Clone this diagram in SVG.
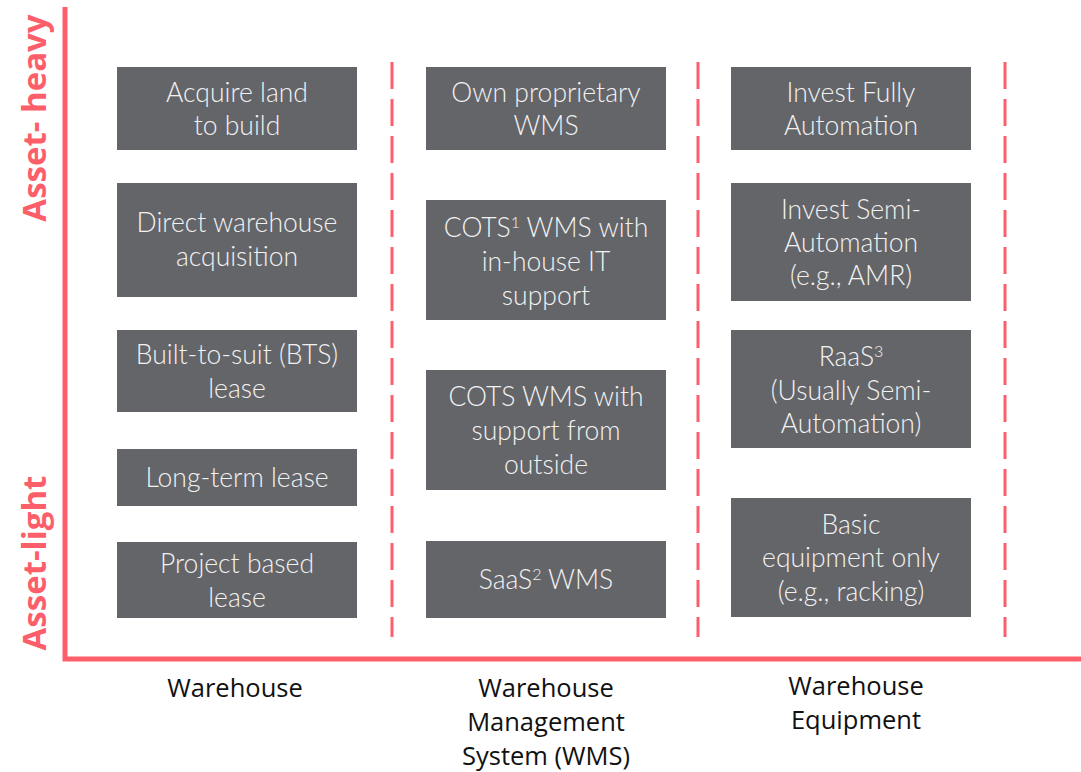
<svg xmlns="http://www.w3.org/2000/svg" width="1081" height="772" viewBox="0 0 1081 772">
  <style>
    .box { fill: #646569; }
    .bt { font-family: Lato, "Open Sans", sans-serif; font-weight: 300; font-size: 26.5px; fill: #f2f2f2; text-anchor: middle; }
    .cat { font-family: "Open Sans", "Noto Sans", sans-serif; font-size: 25.5px; fill: #111; text-anchor: middle; }
    .axl { font-family: "Open Sans", "Noto Sans", sans-serif; font-weight: 700; font-size: 33px; fill: #fd5f6a; text-anchor: middle; }
    .axis { stroke: #fd5f6a; stroke-width: 5; fill: none; }
    .sep { stroke: #fd5f6a; stroke-width: 3; stroke-dasharray: 27 10; fill: none; }
  </style>

  <!-- axes and column separators -->
  <g id="connectors">
    <polyline class="axis" points="65,7 65,659 1081,659"/>
    <line class="sep" x1="392" y1="62" x2="392" y2="637"/>
    <line class="sep" x1="698" y1="62" x2="698" y2="637"/>
    <line class="sep" x1="1005" y1="62" x2="1005" y2="637"/>
  </g>

  <!-- axis labels -->
  <text class="axl" transform="translate(46,118) rotate(-90)">Asset- heavy</text>
  <text class="axl" transform="translate(46,563) rotate(-90)">Asset-light</text>

  <!-- Warehouse column -->
  <g id="acquire-land">
    <rect class="box" x="117" y="67" width="240" height="83"/>
    <text class="bt" x="237" y="102">Acquire land</text>
    <text class="bt" x="237" y="135">to build</text>
  </g>
  <g id="direct-acquisition">
    <rect class="box" x="117" y="183" width="240" height="114"/>
    <text class="bt" x="237" y="232">Direct warehouse</text>
    <text class="bt" x="237" y="266">acquisition</text>
  </g>
  <g id="built-to-suit">
    <rect class="box" x="117" y="330" width="240" height="82"/>
    <text class="bt" x="237" y="364">Built-to-suit (BTS)</text>
    <text class="bt" x="237" y="398">lease</text>
  </g>
  <g id="long-term-lease">
    <rect class="box" x="117" y="449" width="240" height="57"/>
    <text class="bt" x="237" y="487">Long-term lease</text>
  </g>
  <g id="project-lease">
    <rect class="box" x="117" y="542" width="240" height="76"/>
    <text class="bt" x="237" y="573">Project based</text>
    <text class="bt" x="237" y="607">lease</text>
  </g>

  <!-- WMS column -->
  <g id="own-wms">
    <rect class="box" x="426" y="67" width="240" height="83"/>
    <text class="bt" x="546" y="102">Own proprietary</text>
    <text class="bt" x="546" y="135">WMS</text>
  </g>
  <g id="cots-inhouse">
    <rect class="box" x="426" y="200" width="240" height="120"/>
    <text class="bt" x="546" y="237">COTS<tspan font-size="16" dy="-9">1</tspan><tspan dy="9"> WMS with</tspan></text>
    <text class="bt" x="546" y="271">in-house IT</text>
    <text class="bt" x="546" y="305">support</text>
  </g>
  <g id="cots-outside">
    <rect class="box" x="426" y="370" width="240" height="120"/>
    <text class="bt" x="546" y="406">COTS WMS with</text>
    <text class="bt" x="546" y="440">support from</text>
    <text class="bt" x="546" y="474">outside</text>
  </g>
  <g id="saas-wms">
    <rect class="box" x="426" y="541" width="240" height="77"/>
    <text class="bt" x="546" y="589">SaaS<tspan font-size="16" dy="-9">2</tspan><tspan dy="9"> WMS</tspan></text>
  </g>

  <!-- Equipment column -->
  <g id="full-automation">
    <rect class="box" x="731" y="67" width="240" height="83"/>
    <text class="bt" x="851" y="102">Invest Fully</text>
    <text class="bt" x="851" y="135">Automation</text>
  </g>
  <g id="semi-automation">
    <rect class="box" x="731" y="183" width="240" height="118"/>
    <text class="bt" x="851" y="219">Invest Semi-</text>
    <text class="bt" x="851" y="252">Automation</text>
    <text class="bt" x="851" y="285">(e.g., AMR)</text>
  </g>
  <g id="raas">
    <rect class="box" x="731" y="330" width="240" height="118"/>
    <text class="bt" x="851" y="366">RaaS<tspan font-size="16" dy="-9">3</tspan></text>
    <text class="bt" x="851" y="400">(Usually Semi-</text>
    <text class="bt" x="851" y="433">Automation)</text>
  </g>
  <g id="basic-equipment">
    <rect class="box" x="731" y="498" width="240" height="119"/>
    <text class="bt" x="851" y="534">Basic</text>
    <text class="bt" x="851" y="567">equipment only</text>
    <text class="bt" x="851" y="601">(e.g., racking)</text>
  </g>

  <!-- category labels -->
  <g id="cat-warehouse">
    <text class="cat" x="235" y="697">Warehouse</text>
  </g>
  <g id="cat-wms">
    <text class="cat" x="546" y="697">Warehouse</text>
    <text class="cat" x="546" y="731">Management</text>
    <text class="cat" x="546" y="765">System (WMS)</text>
  </g>
  <g id="cat-equipment">
    <text class="cat" x="856" y="695">Warehouse</text>
    <text class="cat" x="856" y="729">Equipment</text>
  </g>
</svg>
